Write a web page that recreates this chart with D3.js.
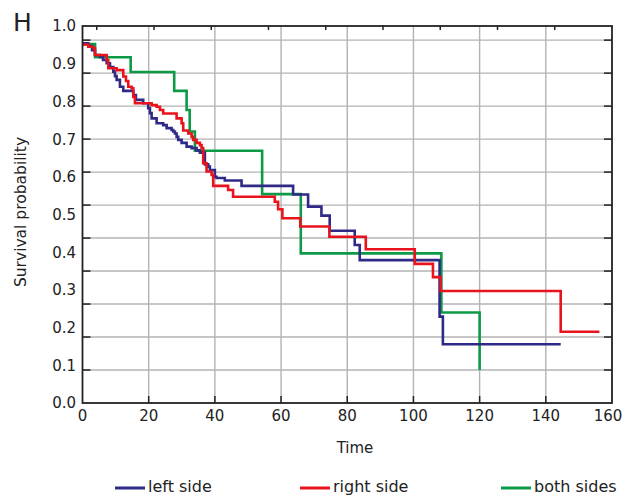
<!DOCTYPE html>
<html><head><meta charset="utf-8">
<script src="https://cdn.jsdelivr.net/npm/d3@7"></script>
<style>body{margin:0;background:#fff}svg{display:block}text{font-family:"DejaVu Sans",sans-serif;fill:#222}</style>
</head><body>
<svg id="c" width="635" height="499"></svg>
<script>
// Kaplan-Meier step data: time and survival value (value holds from that time on)
const leftTime = [0,1.75,2.87,3.77,5.28,6.19,7.31,8.3,9.3,9.81,10.32,11.32,12.32,15.34,16.15,18.35,19.86,20.38,20.89,22.4,24.39,25.42,26.93,27.41,27.92,28.44,28.92,29.95,31.46,32.97,34.48,35.47,36.98,37.98,38.49,40.0,40.5,43.0,48.06,63.64,68.17,72.2,74.7,82.26,83.77,107.9,108.9,144.5];
const leftSurv = [0.954,0.947,0.936,0.923,0.918,0.91,0.901,0.891,0.879,0.867,0.857,0.839,0.828,0.817,0.804,0.795,0.782,0.769,0.755,0.742,0.737,0.729,0.724,0.72,0.715,0.706,0.698,0.69,0.68,0.676,0.67,0.664,0.633,0.627,0.618,0.6,0.597,0.59,0.576,0.553,0.521,0.497,0.457,0.419,0.379,0.229,0.156,0.156];
const rightTime = [0,1.75,3.26,3.77,7.31,7.79,10.32,12.32,13.13,13.83,14.85,15.34,15.85,20.89,22.4,23.4,24.39,28.44,29.95,30.43,31.94,32.97,33.45,34.48,35.47,35.98,36.47,37.49,39.0,39.49,44.0,45.5,58.1,59.1,60.4,65.8,74.6,85.6,100.4,105.9,108.2,144.5,156.2];
const rightSurv = [0.951,0.945,0.941,0.923,0.91,0.888,0.883,0.866,0.854,0.839,0.835,0.812,0.795,0.79,0.786,0.777,0.768,0.755,0.742,0.723,0.715,0.706,0.698,0.69,0.684,0.676,0.636,0.614,0.605,0.576,0.565,0.547,0.534,0.514,0.49,0.468,0.441,0.408,0.369,0.334,0.297,0.189,0.189];
const bothTime = [0,3.8,14.55,27.71,31.46,32.4,33.96,54.28,65.96,108.44,120.0];
const bothSurv = [0.952,0.917,0.878,0.828,0.777,0.72,0.669,0.554,0.397,0.24,0.0875];

const seriesNames = ["left side","right side","both sides"];
const seriesColors = ["#2f2a86","#e8131c","#0c9a47"];

const xTicks = [0,20,40,60,80,100,120,140,160];
const yTickLabels = [0.0,0.1,0.2,0.3,0.4,0.5,0.6,0.7,0.8,0.9,1.0];
const yGridValues = [0.0875,0.175,0.2625,0.35,0.4375,0.525,0.6125,0.7,0.7875,0.875,0.9625];
const topTicks = [4.3,21.6,38.9,56.2,73.5,90.8,108.1,125.4,142.7];

const svg = d3.select("#c");
const x = d3.scaleLinear().domain([0,160]).range([82.5,612]);
const y = d3.scaleLinear().domain([0,1]).range([403,26]);

// gridlines
const g = svg.append("g");
g.selectAll(".vg").data(xTicks.slice(1,-1)).join("line")
  .attr("x1",d=>x(d)).attr("x2",d=>x(d)).attr("y1",y(1)).attr("y2",y(0))
  .attr("stroke","#b3b3b3").attr("stroke-width",1.4);
g.selectAll(".hg").data(yGridValues).join("line")
  .attr("x1",x(0)).attr("x2",x(160)).attr("y1",d=>y(d)).attr("y2",d=>y(d))
  .attr("stroke","#b3b3b3").attr("stroke-width",1.4);

// ticks (inward)
const tk = svg.append("g").attr("stroke","#222").attr("stroke-width",1.5);
tk.selectAll(".lt").data(yGridValues).join("line")
  .attr("x1",x(0)).attr("x2",x(0)+8).attr("y1",d=>y(d)).attr("y2",d=>y(d));
tk.selectAll(".rt").data(yGridValues).join("line")
  .attr("x1",x(160)-8).attr("x2",x(160)).attr("y1",d=>y(d)).attr("y2",d=>y(d));
tk.selectAll(".bt").data(xTicks.slice(1,-1)).join("line")
  .attr("x1",d=>x(d)).attr("x2",d=>x(d)).attr("y1",y(0)).attr("y2",y(0)-7);
tk.selectAll(".tt").data(topTicks).join("line")
  .attr("x1",d=>x(d)).attr("x2",d=>x(d)).attr("y1",y(1)).attr("y2",y(1)+4);

// curves
const line = d3.line().x(d=>x(d[0])).y(d=>y(d[1])).curve(d3.curveStepAfter);
const series = [
  d3.zip(leftTime,leftSurv),
  d3.zip(rightTime,rightSurv),
  d3.zip(bothTime,bothSurv)
];
[2,0,1].forEach(i=>{
  svg.append("path").datum(series[i]).attr("d",line)
    .attr("fill","none").attr("stroke",seriesColors[i]).attr("stroke-width",2.6)
    .attr("stroke-linejoin","miter").attr("stroke-linecap","butt");
});

// frame
svg.append("rect").attr("x",x(0)).attr("y",y(1)).attr("width",x(160)-x(0)).attr("height",y(0)-y(1))
  .attr("fill","none").attr("stroke","#222").attr("stroke-width",1.8);

// tick labels
svg.selectAll(".yl").data(yTickLabels).join("text")
  .attr("x",76).attr("y",d=>y(d)).attr("dy","0.36em").attr("text-anchor","end")
  .attr("font-size",15).text(d=>d3.format(".1f")(d));
svg.selectAll(".xl").data(xTicks).join("text")
  .attr("x",(d,i)=>x(d) - (i===xTicks.length-1?4:0)).attr("y",421).attr("text-anchor","middle")
  .attr("font-size",15).text(d=>d);

// titles
svg.append("text").attr("x",355).attr("y",453).attr("text-anchor","middle").attr("font-size",15).text("Time");
svg.append("text").attr("transform","translate(26,212) rotate(-90)").attr("text-anchor","middle")
  .attr("font-size",15.5).text("Survival probability");
svg.append("text").attr("x",13).attr("y",31).attr("font-size",25).text("H");

// legend
const legX = [115,300,501];
const lg = svg.selectAll(".lg").data(seriesNames).join("g")
  .attr("transform",(d,i)=>`translate(${legX[i]},0)`);
lg.append("line").attr("x1",0).attr("x2",30).attr("y1",488).attr("y2",488)
  .attr("stroke",(d,i)=>seriesColors[i]).attr("stroke-width",3);
lg.append("text").attr("x",33).attr("y",492).attr("font-size",16).text(d=>d);
</script>
</body></html>
